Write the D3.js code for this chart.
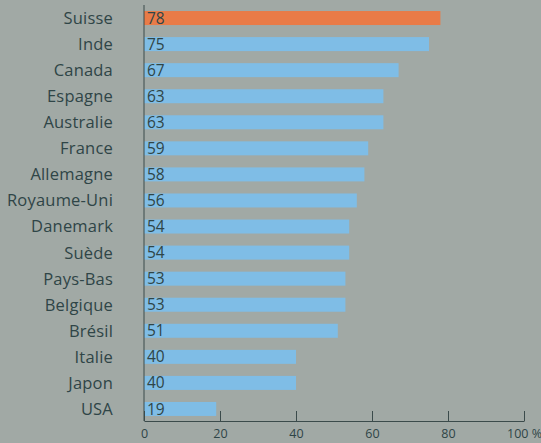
<!DOCTYPE html>
<html>
<head>
<meta charset="utf-8">
<script src="https://cdn.jsdelivr.net/npm/d3@7"></script>
<style>
  html, body { margin: 0; padding: 0; background: #a1a9a5; }
  svg { display: block; }
</style>
</head>
<body>
<svg id="chart" width="541" height="443"></svg>
<script>
const countries = ["Suisse", "Inde", "Canada", "Espagne", "Australie", "France", "Allemagne",
  "Royaume-Uni", "Danemark", "Suède", "Pays-Bas", "Belgique", "Brésil", "Italie", "Japon", "USA"];
const values = [78, 75, 67, 63, 63, 59, 58, 56, 54, 54, 53, 53, 51, 40, 40, 19];
const highlighted = ["Suisse"];
const tickValues = [0, 20, 40, 60, 80, 100];

const width = 541, height = 443;
const svg = d3.select("#chart");
const textColor = "#2f4547";
const font = "'Open Sans', 'Noto Sans', sans-serif";

svg.append("rect").attr("width", width).attr("height", height).attr("fill", "#a1a9a5");

const x = d3.scaleLinear().domain([0, 100]).range([144, 524]);
const y = d3.scaleBand().domain(countries).range([5, 422]).paddingInner(0.463).paddingOuter(0.2315);

const rows = countries.map((c, i) => ({ country: c, value: values[i] }));

// bars
svg.append("g").selectAll("rect").data(rows).join("rect")
  .attr("x", x(0))
  .attr("y", d => y(d.country))
  .attr("width", d => x(d.value) - x(0))
  .attr("height", y.bandwidth())
  .attr("fill", d => highlighted.includes(d.country) ? "#e97b47" : "#7fbde6");

// values inside the bars
svg.append("g").selectAll("text").data(rows).join("text")
  .attr("x", x(0) + 3)
  .attr("y", d => y(d.country) + y.bandwidth() / 2)
  .attr("dy", "0.36em")
  .attr("font-family", font)
  .attr("font-size", 15.5)
  .attr("fill", textColor)
  .text(d => d.value);

// country labels
svg.append("g").selectAll("text").data(rows).join("text")
  .attr("x", 113)
  .attr("y", d => y(d.country) + y.bandwidth() / 2)
  .attr("dy", "0.36em")
  .attr("text-anchor", "end")
  .attr("font-family", font)
  .attr("font-size", 16.5)
  .attr("letter-spacing", "0.2px")
  .attr("fill", textColor)
  .text(d => d.country);

// vertical axis line
svg.append("line")
  .attr("x1", x(0)).attr("x2", x(0))
  .attr("y1", 5).attr("y2", 421)
  .attr("stroke", "#3b4b4b").attr("stroke-width", 1);

// bottom axis with upward ticks
const axis = d3.axisBottom(x)
  .tickValues(tickValues)
  .tickSizeInner(-10)
  .tickSizeOuter(0)
  .tickFormat(d => d === 100 ? "100 %" : d);

const gx = svg.append("g").attr("transform", "translate(0,421)").call(axis);
gx.select(".domain").attr("stroke", "#3b4b4b");
gx.selectAll(".tick line").attr("stroke", "#3b4b4b");
gx.selectAll(".tick text")
  .attr("font-family", font)
  .attr("font-size", 12.5)
  .attr("fill", textColor)
  .attr("y", 8);
</script>
</body>
</html>
